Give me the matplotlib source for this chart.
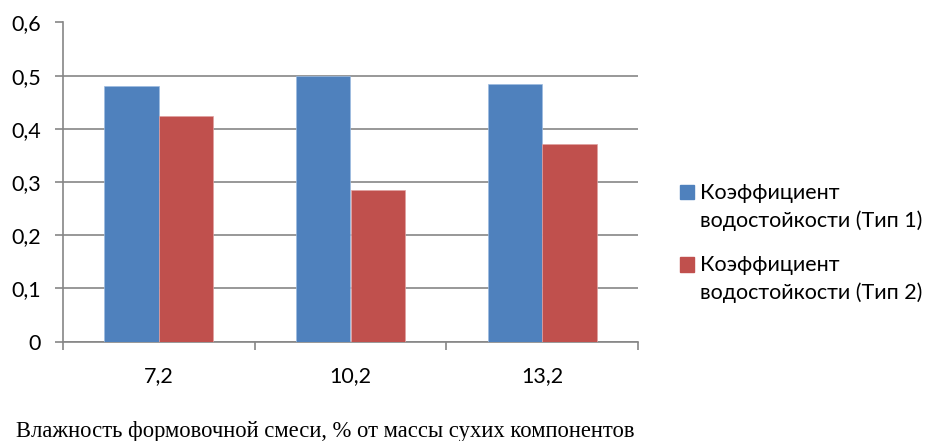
import matplotlib
matplotlib.use("Agg")
import matplotlib.pyplot as plt
from matplotlib.patches import Rectangle
from matplotlib.ticker import FixedLocator

categories = ["7,2", "10,2", "13,2"]
type1 = [0.48, 0.50, 0.484]
type2 = [0.424, 0.285, 0.371]
series_labels = ["Коэффициент\nводостойкости (Тип 1)", "Коэффициент\nводостойкости (Тип 2)"]
y_ticks = [0, 0.1, 0.2, 0.3, 0.4, 0.5, 0.6]
x_label = "Влажность формовочной смеси, % от массы сухих компонентов"

blue = "#4F81BD"
red = "#C0504D"
axis_gray = "#868686"

W, H = 927, 441
fig = plt.figure(figsize=(W / 100, H / 100), dpi=100)
ax = fig.add_axes([63 / W, (H - 341.5) / H, 575 / W, 319 / H])

plt.rcParams["font.family"] = ["Lato", "DejaVu Sans"]
font = ["Lato", "DejaVu Sans"]

n = len(categories)
xs = list(range(n))
bw = 0.284
ax.bar([x - bw / 2 for x in xs], type1, width=bw, color=blue, edgecolor="#9dbbe0", linewidth=0.5, zorder=3)
ax.bar([x + bw / 2 for x in xs], type2, width=bw, color=red, edgecolor="#e0a0a0", linewidth=0.5, zorder=3)

ax.set_xlim(-0.5, n - 0.5)
ax.set_ylim(0, 0.6)
ax.set_yticks(y_ticks)
ax.set_yticklabels([f"{v:g}".replace(".", ",") for v in y_ticks], fontsize=15.5, family=font)
ax.yaxis.grid(True, color=axis_gray, linewidth=1.2, zorder=0)
ax.set_axisbelow(True)

# category boundaries carry the tick marks, category centres carry the labels
ax.xaxis.set_major_locator(FixedLocator([x - 0.5 for x in range(n + 1)]))
ax.xaxis.set_minor_locator(FixedLocator(xs))
ax.set_xticklabels([""] * (n + 1))
ax.set_xticklabels(categories, minor=True, fontsize=15.5, family=font)
ax.tick_params(axis="x", which="major", length=6, width=1.2, color=axis_gray, direction="out")
ax.tick_params(axis="x", which="minor", length=0, pad=18)
ax.tick_params(axis="y", length=6, width=1.2, color=axis_gray, pad=10)

for s in ["top", "right"]:
    ax.spines[s].set_visible(False)
for s in ["left", "bottom"]:
    ax.spines[s].set_color(axis_gray)
    ax.spines[s].set_linewidth(1.2)

# legend: a square beside the first line of each two-line entry
line_step = 27.5
entry_top = [193, 265]
for color, label, y0 in zip([blue, red], series_labels, entry_top):
    fig.patches.append(Rectangle((680 / W, 1 - (y0 + 6.5) / H), 13.5 / W, 14.5 / H,
                                 transform=fig.transFigure, color=color))
    for i, line in enumerate(label.split("\n")):
        fig.text(700 / W, 1 - (y0 + i * line_step) / H, line, ha="left", va="center",
                 fontsize=15.5, family=font)

fig.text(325 / W, 1 - 436.5 / H, x_label, ha="center", va="baseline",
         fontsize=16.3, family=["Liberation Serif", "DejaVu Serif"])

fig.savefig("out.png", dpi=100)
